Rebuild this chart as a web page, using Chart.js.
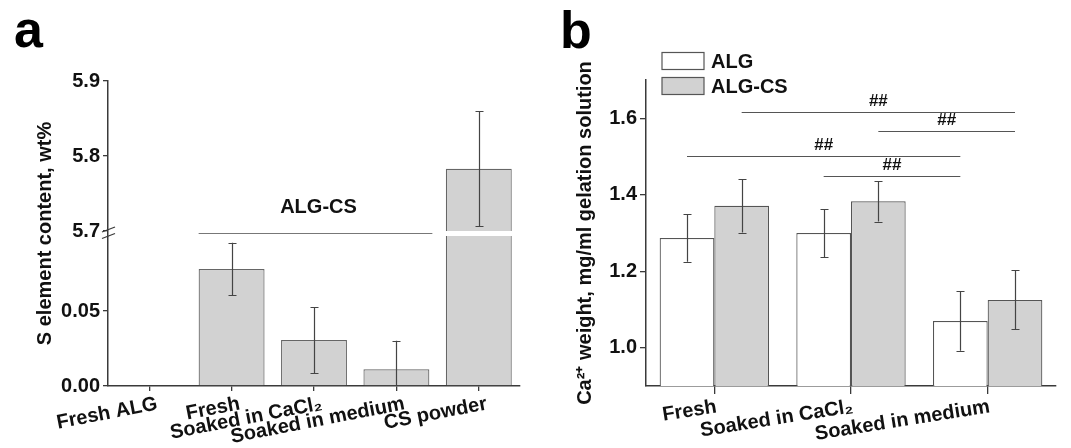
<!DOCTYPE html>
<html><head><meta charset="utf-8">
<script src="https://cdn.jsdelivr.net/npm/chart.js@4.4.1/dist/chart.umd.min.js"></script>
<style>
html,body{margin:0;padding:0;background:#fff;}
#wrap{position:relative;width:1071px;height:448px;overflow:hidden;background:#fff;}
#ca{position:absolute;left:0;top:0;}
#cb{position:absolute;left:535px;top:0;}
</style></head><body>
<div id="wrap"><canvas id="ca" width="535" height="448"></canvas><canvas id="cb" width="536" height="448"></canvas></div>
<script>
// ---------- Panel a data ----------
const aCategories = ['Fresh ALG', 'Fresh', 'Soaked in CaCl₂', 'Soaked in medium', 'CS powder'];
const aValues = [0, 0.078, 0.0307, 0.0111, 5.783];
const aErrors = [0, 0.0175, 0.022, 0.019, 0.077];
const aTicks = [0, 0.05, 5.7, 5.8, 5.9];
const aLowSegment = [0, 0.1];
const aHighSegment = [5.7, 5.9];
const aGroupLabel = 'ALG-CS';
const aGroupMembers = [1, 3];

// ---------- Panel b data ----------
const bCategories = ['Fresh', 'Soaked in CaCl₂', 'Soaked in medium'];
const bALG = [1.287, 1.300, 1.070];
const bALGErr = [0.062, 0.063, 0.078];
const bALGCS = [1.371, 1.383, 1.125];
const bALGCSErr = [0.070, 0.053, 0.077];
const bTicks = [1.0, 1.2, 1.4, 1.6];
const sigStart = [[1,0],[1,1],[0,0],[0,1]];
const sigEnd = [[1,2],[1,2],[0,2],[0,2]];
const sigLevel = [1.616, 1.566, 1.502, 1.449];
const sigMark = ['##','##','##','##'];

const FONT = "'Liberation Sans', Arial, Helvetica, sans-serif";
Chart.defaults.font.family = FONT;
Chart.defaults.color = '#111';
const AXIS = '#3a3a3a';
const GAP = 5 / 150;

// ---------- broken linear scale ----------
class BrokenScale extends Chart.LinearScale {
  toT(v) {
    const lo = aLowSegment, hi = aHighSegment;
    if (v <= lo[1]) return (v - lo[0]) / (lo[1] - lo[0]);
    if (v >= hi[0]) return 1 + GAP + (v - hi[0]) / (hi[1] - hi[0]);
    return 1 + GAP / 2;
  }
  fromT(t) {
    const lo = aLowSegment, hi = aHighSegment;
    if (t <= 1) return lo[0] + t * (lo[1] - lo[0]);
    if (t >= 1 + GAP) return hi[0] + (t - 1 - GAP) * (hi[1] - hi[0]);
    return lo[1];
  }
  getPixelForValue(v) { return v === null || v === undefined ? NaN : super.getPixelForValue(this.toT(v)); }
  getValueForPixel(p) { return this.fromT(super.getValueForPixel(p)); }
  buildTicks() { return aTicks.map(v => ({value: v})); }
}
BrokenScale.id = 'broken';
BrokenScale.defaults = Chart.LinearScale.defaults;
Chart.register(BrokenScale);

// ---------- plugins ----------
const errorBarPlugin = {
  id: 'errorBars',
  afterDatasetsDraw(chart) {
    const ctx = chart.ctx, area = chart.chartArea;
    ctx.save();
    ctx.strokeStyle = '#444';
    ctx.lineWidth = 1.2;
    chart.data.datasets.forEach((ds, di) => {
      if (!ds.errors) return;
      const meta = chart.getDatasetMeta(di);
      const ys = chart.scales[meta.yAxisID];
      meta.data.forEach((bar, i) => {
        const v = ds.data[i], e = ds.errors[i];
        if (!e) return;
        let top = ys.getPixelForValue(v + e), bot = ys.getPixelForValue(v - e);
        const x = Math.round(bar.x) + 0.5;
        const topIn = top >= area.top, botIn = bot <= area.bottom;
        top = Math.max(top, area.top); bot = Math.min(bot, area.bottom);
        ctx.beginPath();
        ctx.moveTo(x, top); ctx.lineTo(x, bot);
        if (topIn) { ctx.moveTo(x - 4, Math.round(top) + 0.5); ctx.lineTo(x + 4, Math.round(top) + 0.5); }
        if (botIn && bot < area.bottom - 1) { ctx.moveTo(x - 4, Math.round(bot) + 0.5); ctx.lineTo(x + 4, Math.round(bot) + 0.5); }
        ctx.stroke();
      });
    });
    ctx.restore();
  }
};

const panelLetterPlugin = {
  id: 'panelLetter',
  afterDraw(chart, args, opts) {
    const ctx = chart.ctx;
    ctx.save();
    ctx.font = 'bold 52px ' + FONT;
    ctx.fillStyle = '#000';
    ctx.textBaseline = 'alphabetic';
    ctx.fillText(opts.text, opts.x, opts.y);
    ctx.restore();
  }
};

const breakPlugin = {
  id: 'axisBreak',
  afterDatasetsDraw(chart) {
    const ctx = chart.ctx;
    const ys = chart.scales.y;
    const pTop = ys.getPixelForValue(aHighSegment[0]);
    const pBot = ys.getPixelForValue(aLowSegment[1]);
    const meta = chart.getDatasetMeta(0);
    ctx.save();
    ctx.fillStyle = '#fff';
    meta.data.forEach((bar, i) => {
      if (aValues[i] >= aHighSegment[0]) {
        ctx.fillRect(bar.x - bar.width / 2 - 2, pTop, bar.width + 4, pBot - pTop);
      }
    });
    ctx.restore();
  },
  afterDraw(chart) {
    const ctx = chart.ctx;
    const ys = chart.scales.y;
    const pTop = ys.getPixelForValue(aHighSegment[0]);
    const pBot = ys.getPixelForValue(aLowSegment[1]);
    const ax = chart.chartArea.left;
    ctx.save();
    // break marks
    ctx.strokeStyle = AXIS; ctx.lineWidth = 1.3;
    [pTop - 1.5, pBot].forEach(y => {
      ctx.beginPath(); ctx.moveTo(ax - 6, y + 2.5); ctx.lineTo(ax + 7, y - 2.5); ctx.stroke();
    });
    // group line + label
    const meta = chart.getDatasetMeta(0);
    const b0 = meta.data[aGroupMembers[0]], b1 = meta.data[aGroupMembers[1]];
    const x0 = b0.x - b0.width / 2, x1 = b1.x + b1.width / 2 + 3;
    const ly = Math.round((pTop + pBot) / 2) + 0.5;
    ctx.strokeStyle = '#777'; ctx.lineWidth = 1.2;
    ctx.beginPath(); ctx.moveTo(x0, ly); ctx.lineTo(x1, ly); ctx.stroke();
    ctx.fillStyle = '#111';
    ctx.font = 'bold 20px ' + FONT;
    ctx.textAlign = 'center'; ctx.textBaseline = 'middle';
    ctx.fillText(aGroupLabel, (x0 + x1) / 2 + 3, ly - 26);
    ctx.restore();
  }
};

const sigPlugin = {
  id: 'sigLines',
  afterDraw(chart) {
    const ctx = chart.ctx;
    const ys = chart.scales.y;
    ctx.save();
    ctx.strokeStyle = '#555'; ctx.lineWidth = 1.2;
    ctx.fillStyle = '#111';
    ctx.font = 'bold 17px ' + FONT;
    ctx.textAlign = 'center'; ctx.textBaseline = 'middle';
    sigLevel.forEach((lv, k) => {
      const a = chart.getDatasetMeta(sigStart[k][0]).data[sigStart[k][1]];
      const b = chart.getDatasetMeta(sigEnd[k][0]).data[sigEnd[k][1]];
      const y = Math.round(ys.getPixelForValue(lv)) + 0.5;
      ctx.beginPath(); ctx.moveTo(a.x, y); ctx.lineTo(b.x, y); ctx.stroke();
      ctx.fillText(sigMark[k], (a.x + b.x) / 2, y - 11);
    });
    // legend
    const lx = 127, lw = 42, lh = 17;
    const rows = [52.5, 77.5];
    ctx.font = 'bold 20px ' + FONT;
    ctx.textAlign = 'left';
    chart.data.datasets.forEach((ds, i) => {
      const y = rows[i];
      ctx.fillStyle = ds.backgroundColor;
      ctx.fillRect(lx, y, lw, lh);
      ctx.strokeStyle = '#555'; ctx.lineWidth = 1.2;
      ctx.strokeRect(lx, y, lw, lh);
      ctx.fillStyle = '#111';
      ctx.fillText(ds.label, lx + 49, y + lh / 2 + 1);
    });
    ctx.restore();
  }
};

function xAxis(rot, tickLen, lblOff) {
  return {
    type: 'category', offset: true,
    grid: { offset: false, drawOnChartArea: false, drawTicks: true, tickLength: tickLen, color: AXIS, lineWidth: 1.3 },
    border: { display: true, color: AXIS, width: 1.5 },
    ticks: { font: { size: 20, weight: 'bold' }, color: '#111', minRotation: rot, maxRotation: rot, autoSkip: false, padding: 1, labelOffset: lblOff },
    afterFit(s) { s.height = 62; }
  };
}

// ---------- Chart a ----------
new Chart(document.getElementById('ca'), {
  type: 'bar',
  data: {
    labels: aCategories,
    datasets: [{
      label: 'S content', data: aValues, errors: aErrors,
      backgroundColor: '#d2d2d2', borderColor: '#666', borderWidth: 1.2,
      barPercentage: 0.8, categoryPercentage: 1.0
    }]
  },
  options: {
    responsive: false, animation: false,
    layout: { padding: { left: 0, top: 81, right: 15, bottom: 0 } },
    plugins: { legend: { display: false }, tooltip: { enabled: false },
      panelLetter: { text: 'a', x: 14, y: 47 } },
    scales: {
      x: xAxis(11, 5, 8),
      y: {
        type: 'broken', min: 0, max: 2 + GAP,
        grid: { drawOnChartArea: false, drawTicks: true, tickLength: 5, color: AXIS, lineWidth: 1.3 },
        border: { display: true, color: AXIS, width: 1.5 },
        ticks: { font: { size: 20, weight: 'bold' }, color: '#111', padding: 3,
          callback: v => v < 1 ? v.toFixed(2) : v.toFixed(1) },
        title: { display: true, text: 'S element content, wt%', font: { size: 20, weight: 'bold' }, color: '#111', padding: { top: 33, bottom: 0 } },
        afterFit(s) { s.width = 108; }
      }
    }
  },
  plugins: [breakPlugin, errorBarPlugin, panelLetterPlugin]
});

// ---------- Chart b ----------
new Chart(document.getElementById('cb'), {
  type: 'bar',
  data: {
    labels: bCategories,
    datasets: [
      { label: 'ALG', data: bALG, errors: bALGErr, backgroundColor: '#ffffff', borderColor: '#555', borderWidth: 1.2,
        barPercentage: 1.0, categoryPercentage: 0.8 },
      { label: 'ALG-CS', data: bALGCS, errors: bALGCSErr, backgroundColor: '#d2d2d2', borderColor: '#555', borderWidth: 1.2,
        barPercentage: 1.0, categoryPercentage: 0.8 }
    ]
  },
  options: {
    responsive: false, animation: false,
    layout: { padding: { left: 0, top: 80, right: 15, bottom: 0 } },
    plugins: { legend: { display: false }, tooltip: { enabled: false },
      panelLetter: { text: 'b', x: 25, y: 48 } },
    scales: {
      x: xAxis(9, 8, 2),
      y: {
        type: 'linear', min: 0.9, max: 1.7,
        afterBuildTicks(s) { s.ticks = bTicks.map(v => ({ value: v })); },
        grid: { drawOnChartArea: false, drawTicks: true, tickLength: 6, color: AXIS, lineWidth: 1.3 },
        border: { display: true, color: AXIS, width: 1.5 },
        ticks: { font: { size: 20, weight: 'bold' }, color: '#111', padding: 3, callback: v => v.toFixed(1) },
        title: { display: true, text: 'Ca²⁺ weight, mg/ml gelation solution', font: { size: 20, weight: 'bold' }, color: '#111', padding: { top: 38, bottom: 0 } },
        afterFit(s) { s.width = 111; }
      }
    }
  },
  plugins: [errorBarPlugin, sigPlugin, panelLetterPlugin]
});
</script>
</body></html>
